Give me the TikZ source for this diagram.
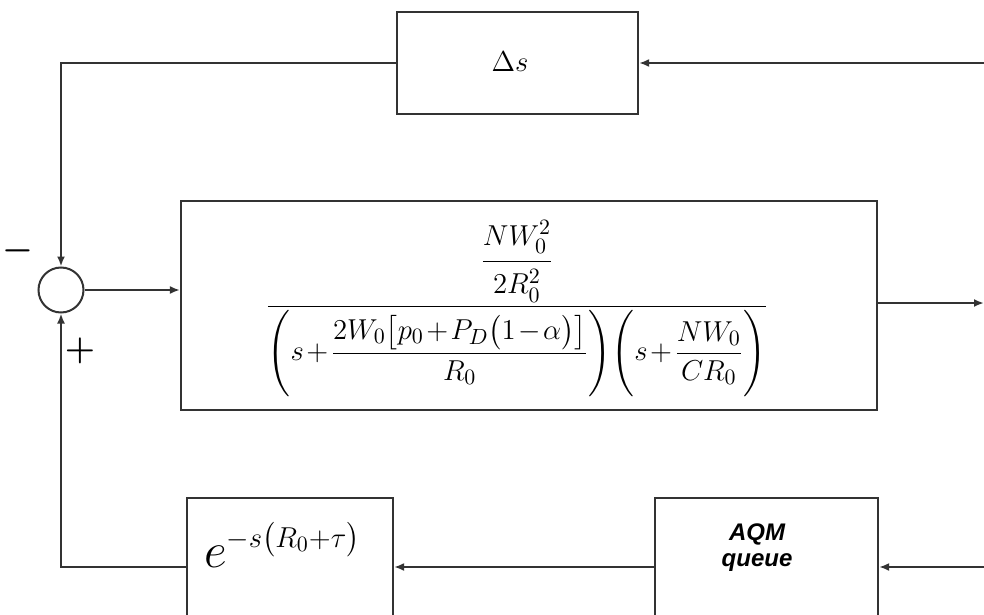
\documentclass[tikz,border=0pt]{standalone}
\usepackage{fontspec}
\usepackage{amsmath}
\usetikzlibrary{arrows.meta}
\newfontfamily\aqmfont{Liberation Sans}
\begin{document}
\begin{tikzpicture}[x=0.5pt,y=-0.5pt,
  line width=1pt,
  blk/.style={draw=black!80, line width=1.1pt, rectangle, inner sep=0pt},
  arr/.style={draw=black!80, line width=1pt, -{Latex[length=5pt,width=4pt]}},
  ln/.style={draw=black!80, line width=1pt}]
\useasboundingbox (0,0) rectangle (984,615);
\clip (0,0) rectangle (984,615);

% blocks
\node[blk, minimum width=120.5pt, minimum height=51pt] (ds) at (517.5,63) {};
\node[inner sep=0pt] (dstext) at (510,62) {\fontsize{15}{18}\selectfont$\Delta s$};

\node[blk, minimum width=348pt, minimum height=104.5pt] (main) at (529,305.5) {};
\node[inner sep=0pt] (frac) at (517,305) {\fontsize{15}{18}\selectfont\medmuskip=1.5mu$\displaystyle
  \frac{\dfrac{\rule{0pt}{17pt}NW_0^2\rule[-6pt]{0pt}{1pt}}{\rule{0pt}{14pt}2R_0^2\rule[-4pt]{0pt}{1pt}}}%
  {{\left(\rule[-19pt]{0pt}{41pt}s+\dfrac{2W_0\bigl[p_0+P_D\bigl(1-\alpha\bigr)\bigr]}{R_0}\right)}{\left(\rule[-19pt]{0pt}{41pt}s+\dfrac{NW_0}{CR_0}\right)}}$};

\node[blk, minimum width=103pt, minimum height=69pt] (edel) at (290,567) {};
\node[inner sep=0pt, anchor=west] (etext) at (203,545) {{\fontsize{32}{32}\selectfont$e$}\raisebox{10pt}{\fontsize{15}{15}\selectfont$-s\bigl(R_0{+}\tau\bigr)$}};

\node[blk, minimum width=111.5pt, minimum height=69pt] (aqm) at (766.5,567) {};
\node[inner sep=0pt, align=center, font=\aqmfont\bfseries\itshape\fontsize{12}{14}\selectfont] (aqmtext) at (757,548) {AQM\\[-1pt] queue};

% summing junction
\node[draw=black!80, line width=1pt, circle, minimum size=22.5pt, inner sep=0pt] (sum) at (61,290) {};
\node (minus) at (18,251) {\fontsize{18}{18}\selectfont$\boldsymbol{-}$};
\node (plus) at (80,351) {\fontsize{16}{16}\selectfont$\boldsymbol{+}$};

% free ends
\coordinate (inTop) at (984,63);
\coordinate (outR) at (984,303);
\coordinate (inBot) at (984,567);

% connectors
\draw[arr] (inTop) -- (ds.east);
\draw[arr] (ds.west) -| (sum.north);
\draw[arr] (sum.east) -- (main.west |- sum.east);
\draw[arr] (main.east |- outR) -- (outR);
\draw[arr] (inBot) -- (aqm.east);
\draw[arr] (aqm.west) -- (edel.east);
\draw[arr] (edel.west) -| (sum.south);
\end{tikzpicture}
\end{document}
